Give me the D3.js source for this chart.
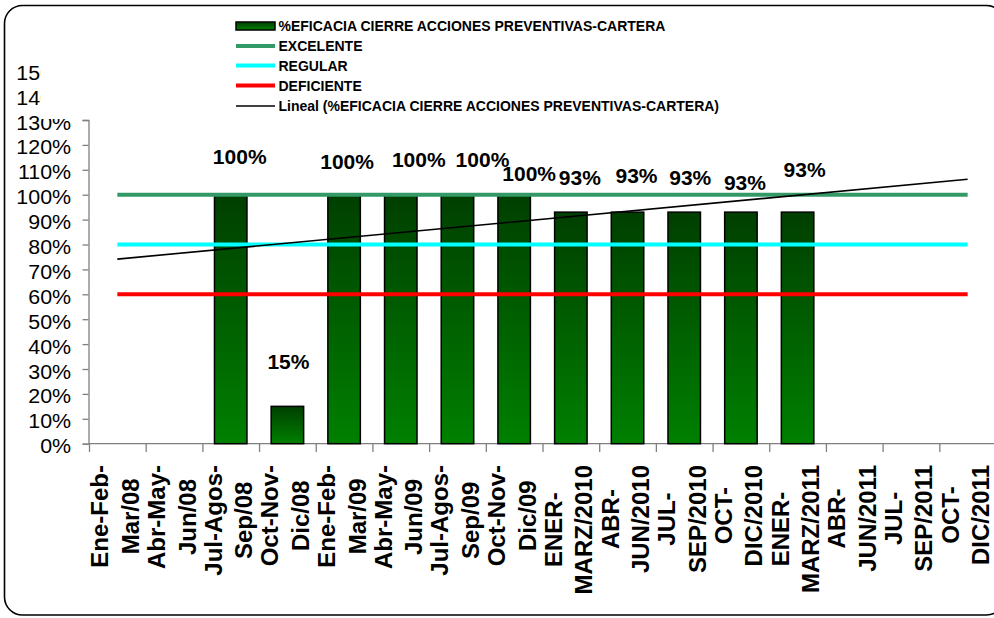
<!DOCTYPE html>
<html>
<head>
<meta charset="utf-8">
<script src="https://cdn.jsdelivr.net/npm/d3@7"></script>
<style>
  html, body { margin: 0; padding: 0; background: #fff; }
  svg { display: block; font-family: "Liberation Sans", Arial, sans-serif; }
</style>
</head>
<body>
<svg id="chart" width="994" height="618"></svg>
<script>
// ---------- DATA ----------
const categories = [
  "Ene-Feb-|Mar/08", "Abr-May-|Jun/08", "Jul-Agos-|Sep/08", "Oct-Nov-|Dic/08",
  "Ene-Feb-|Mar/09", "Abr-May-|Jun/09", "Jul-Agos-|Sep/09", "Oct-Nov-|Dic/09",
  "ENER-|MARZ/2010", "ABR-|JUN/2010", "JUL-|SEP/2010", "OCT-|DIC/2010",
  "ENER-|MARZ/2011", "ABR-|JUN/2011", "JUL-|SEP/2011", "OCT-|DIC/2011"
];
const eficacia = [null, null, 1.00, 0.15, 1.00, 1.00, 1.00, 1.00, 0.93, 0.93, 0.93, 0.93, 0.93, null, null, null];
const excelente = 1.00;
const regular = 0.80;
const deficiente = 0.60;
const yTickValues = [0, 0.1, 0.2, 0.3, 0.4, 0.5, 0.6, 0.7, 0.8, 0.9, 1.0, 1.1, 1.2, 1.3, 1.4, 1.5];
const yTickLabels = ["0%", "10%", "20%", "30%", "40%", "50%", "60%", "70%", "80%", "90%", "100%", "110%", "120%", "130%", "140%", "150%"];
const seriesNames = [
  "%EFICACIA CIERRE ACCIONES PREVENTIVAS-CARTERA",
  "EXCELENTE", "REGULAR", "DEFICIENTE",
  "Lineal (%EFICACIA CIERRE ACCIONES PREVENTIVAS-CARTERA)"
];

// ---------- LAYOUT (manual label nudges as in the original, [dx, baseline dy]) ----------
const labelNudge = [null, null, [9, -31], [1, -37], [3, -26], [18, -28], [25, -28], [15, -14],
                    [9, -27], [9, -29], [6, -27], [4, -22], [7, -35], null, null, null];

const svg = d3.select("#chart");
const font = '"Liberation Sans", Arial, sans-serif';

svg.append("rect").attr("width", 994).attr("height", 618).attr("fill", "#fff");

// gradient for bars
const defs = svg.append("defs");
const grad = defs.append("linearGradient").attr("id", "barGrad")
  .attr("x1", 0).attr("y1", 0).attr("x2", 0).attr("y2", 1);
grad.append("stop").attr("offset", "0%").attr("stop-color", "#003f00");
grad.append("stop").attr("offset", "100%").attr("stop-color", "#008000");

// outer rounded border
svg.append("rect")
  .attr("x", 4.5).attr("y", 5.5).attr("width", 1000).attr("height", 609.5)
  .attr("rx", 18).attr("ry", 18)
  .attr("fill", "none").attr("stroke", "#000").attr("stroke-width", 1.6);

// scales
const x = d3.scaleBand().domain(categories).range([89, 996]).padding(0);
const y = d3.scaleLinear().domain([0, 1.3]).range([443.7, 120]);
const step = x.step();
const bw = step * 0.573;
const cx = c => x(c) + step / 2;

// ---------- Y axis ----------
const yAxis = svg.append("g").attr("transform", "translate(88.5,0)")
  .call(d3.axisLeft(y).tickValues(yTickValues).tickSize(6).tickSizeOuter(6)
        .tickFormat((d, i) => yTickLabels[i]));
yAxis.select(".domain").attr("stroke", "#808080").attr("stroke-width", 1.3);
yAxis.selectAll(".tick line").attr("stroke", "#808080").attr("stroke-width", 1.3);
yAxis.selectAll(".tick text")
  .attr("x", -16.3).attr("dy", "0.45em")
  .attr("transform", "scale(1.07,1)")
  .attr("font-family", font).attr("font-size", 20).attr("fill", "#000");

// ---------- X axis ----------
const xg = svg.append("g");
xg.append("line").attr("x1", 88.5).attr("x2", 996).attr("y1", 443.7).attr("y2", 443.7)
  .attr("stroke", "#808080").attr("stroke-width", 1.3);
xg.selectAll("line.xt").data(categories).join("line").attr("class", "xt")
  .attr("x1", d => x(d) + 0.5).attr("x2", d => x(d) + 0.5)
  .attr("y1", 443.7).attr("y2", 452)
  .attr("stroke", "#808080").attr("stroke-width", 1.3);

// x labels: rotated, two lines, centered
const xl = svg.append("g").selectAll("text").data(categories).join("text")
  .attr("font-family", font).attr("font-size", 24).attr("font-weight", "bold")
  .attr("text-anchor", "middle").attr("fill", "#000");
xl.each(function (d) {
  const t = d3.select(this);
  const parts = d.split("|");
  t.append("tspan").attr("x", 0).attr("y", -9).text(parts[0]);
  t.append("tspan").attr("x", 0).attr("y", 21.5).text(parts[1]);
  let L = 0;
  t.selectAll("tspan").each(function () { L = Math.max(L, this.getComputedTextLength()); });
  t.attr("transform", `translate(${cx(d)},${465 + L / 2}) rotate(-90)`);
});

// ---------- Bars ----------
const barData = categories.map((c, i) => ({ c, v: eficacia[i], i })).filter(d => d.v != null);
svg.append("g").selectAll("rect").data(barData).join("rect")
  .attr("x", d => cx(d.c) - bw / 2)
  .attr("y", d => y(d.v))
  .attr("width", bw)
  .attr("height", d => y(0) - y(d.v))
  .attr("fill", "url(#barGrad)")
  .attr("stroke", "#000").attr("stroke-width", 1.5);

// ---------- Threshold lines ----------
const x0 = cx(categories[0]), x1 = cx(categories[categories.length - 1]);
const thresholds = [
  { v: excelente, color: "#339966" },
  { v: regular, color: "#00ffff" },
  { v: deficiente, color: "#ff0000" }
];
svg.append("g").selectAll("line").data(thresholds).join("line")
  .attr("x1", x0).attr("x2", x1)
  .attr("y1", d => y(d.v)).attr("y2", d => y(d.v))
  .attr("stroke", d => d.color).attr("stroke-width", 4);

// ---------- Linear trend (least squares over available points) ----------
const pts = eficacia.map((v, i) => [i, v]).filter(p => p[1] != null);
const mx = d3.mean(pts, p => p[0]), my = d3.mean(pts, p => p[1]);
const slope = d3.sum(pts, p => (p[0] - mx) * (p[1] - my)) / d3.sum(pts, p => (p[0] - mx) ** 2);
const trend = i => my + slope * (i - mx);
const n = categories.length;
svg.append("line")
  .attr("x1", x0).attr("y1", y(trend(0)))
  .attr("x2", x1).attr("y2", y(trend(n - 1)))
  .attr("stroke", "#000").attr("stroke-width", 1.6);

// ---------- Data labels ----------
svg.append("g").selectAll("text").data(barData).join("text")
  .attr("x", d => cx(d.c) + labelNudge[d.i][0])
  .attr("y", d => y(d.v) + labelNudge[d.i][1])
  .attr("text-anchor", "middle")
  .attr("font-family", font).attr("font-size", 21).attr("font-weight", "bold")
  .attr("fill", "#000")
  .text(d => Math.round(d.v * 100) + "%");

// ---------- Legend ----------
const lg = svg.append("g");
lg.append("rect").attr("x", 41).attr("y", 10).attr("width", 920).attr("height", 109).attr("fill", "#fff");
const legendStyles = [
  { type: "bar" },
  { type: "line", color: "#339966", w: 4 },
  { type: "line", color: "#00ffff", w: 4 },
  { type: "line", color: "#ff0000", w: 4 },
  { type: "line", color: "#000", w: 1.6 }
];
const rowY = [26, 46, 65.5, 85.5, 106];
seriesNames.forEach((name, i) => {
  const s = legendStyles[i];
  const yy = rowY[i];
  if (s.type === "bar") {
    lg.append("rect").attr("x", 236).attr("y", yy - 4).attr("width", 39).attr("height", 8)
      .attr("fill", "url(#barGrad)").attr("stroke", "#000").attr("stroke-width", 1.5);
  } else {
    lg.append("line").attr("x1", 236).attr("x2", 275).attr("y1", yy).attr("y2", yy)
      .attr("stroke", s.color).attr("stroke-width", s.w);
  }
  lg.append("text").attr("x", 278.5).attr("y", yy + 5)
    .attr("font-family", font).attr("font-size", 14).attr("font-weight", "bold")
    .attr("fill", "#000").text(name);
});
</script>
</body>
</html>
